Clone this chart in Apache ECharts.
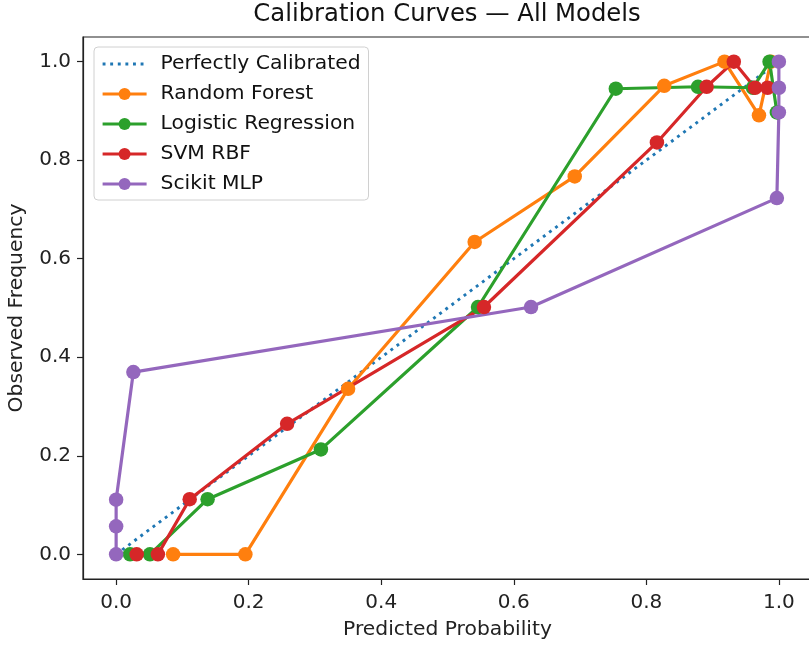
<!DOCTYPE html>
<html>
<head>
<meta charset="utf-8">
<script src="https://cdn.jsdelivr.net/npm/echarts@6/dist/echarts.min.js"></script>
<style>
html,body{margin:0;padding:0;background:#fff;}
#c{width:809px;height:646px;}
</style>
</head>
<body>
<div id="c"></div>
<script>
// ---- data ----
const seriesNames = ["Perfectly Calibrated", "Random Forest", "Logistic Regression", "SVM RBF", "Scikit MLP"];
const perfectX = [0, 1];
const perfectY = [0, 1];
const rfX = [0.086, 0.195, 0.350, 0.541, 0.692, 0.827, 0.918, 0.970, 0.988];
const rfY = [0.000, 0.000, 0.336, 0.634, 0.767, 0.951, 1.000, 0.891, 1.000];
const lrX = [0.021, 0.051, 0.138, 0.309, 0.546, 0.754, 0.878, 0.961, 0.986, 0.997];
const lrY = [0.000, 0.000, 0.112, 0.213, 0.502, 0.945, 0.949, 0.947, 1.000, 0.897];
const svmX = [0.031, 0.063, 0.111, 0.258, 0.555, 0.816, 0.891, 0.932, 0.964, 0.983];
const svmY = [0.000, 0.000, 0.112, 0.265, 0.502, 0.836, 0.949, 1.000, 0.947, 0.947];
const mlpX = [0.000, 0.000, 0.000, 0.026, 0.626, 0.997, 1.000, 1.000, 1.000];
const mlpY = [0.000, 0.057, 0.111, 0.370, 0.502, 0.723, 0.897, 0.947, 1.000];
const tickValues = [0, 0.2, 0.4, 0.6, 0.8, 1.0];
const colors = ["#1f77b4", "#ff7f0e", "#2ca02c", "#d62728", "#9467bd"];

function pairs(xs, ys) { return xs.map((x, i) => [x, ys[i]]); }

const FONT = "DejaVu Sans";
const chart = echarts.init(document.getElementById('c'), null, {renderer: 'canvas'});

const axisCommon = {
  type: 'value',
  min: -0.05,
  max: 1.05,
  splitLine: {show: false},
  axisLine: {show: true, onZero: false, lineStyle: {color: '#222', width: 1.2}},
  axisTick: {show: true, length: 6, lineStyle: {color: '#222', width: 1.2}, customValues: tickValues},
  axisLabel: {
    customValues: tickValues,
    formatter: v => v.toFixed(1),
    color: '#222', fontSize: 20, fontFamily: FONT
  },
  nameLocation: 'middle',
  nameTextStyle: {color: '#222', fontSize: 20.3, fontFamily: FONT}
};

const lineSeries = (name, xs, ys, color) => ({
  name, type: 'line',
  data: pairs(xs, ys),
  symbol: 'circle', symbolSize: 14.5,
  showSymbol: true,
  itemStyle: {color},
  lineStyle: {color, width: 3.2},
  emphasis: {disabled: true},
  animation: false
});

chart.setOption({
  animation: false,
  color: colors,
  title: {
    text: 'Calibration Curves — All Models',
    left: 447, top: 3, textAlign: 'center', padding: 0,
    textStyle: {fontFamily: FONT, fontSize: 24.3, fontWeight: 'normal', color: '#111'}
  },
  grid: {
    left: 83, top: 37, width: 729, height: 542,
    show: true, borderColor: '#222', borderWidth: 1.2, backgroundColor: 'transparent',
    containLabel: false, outerBoundsMode: 'none'
  },
  legend: {
    orient: 'vertical',
    left: 94, top: 47,
    padding: [7, 8, 6, 7],
    itemWidth: 44, itemHeight: 15, itemGap: 10,
    backgroundColor: 'rgba(255,255,255,0.85)',
    borderColor: '#d0d0d0', borderWidth: 1, borderRadius: 4,
    selectedMode: false,
    lineStyle: {width: 3.2},
    textStyle: {fontFamily: FONT, fontSize: 20.3, color: '#111', lineHeight: 20, padding: [0, 0, 0, 9]},
    data: [
      {name: seriesNames[0], itemStyle: {opacity: 0}},
      seriesNames[1], seriesNames[2], seriesNames[3], seriesNames[4]
    ]
  },
  xAxis: Object.assign({}, axisCommon, {name: 'Predicted Probability', nameGap: 41,
    axisLabel: Object.assign({}, axisCommon.axisLabel, {margin: 14})}),
  yAxis: Object.assign({}, axisCommon, {name: 'Observed Frequency', nameGap: 56,
    axisLabel: Object.assign({}, axisCommon.axisLabel, {margin: 12})}),
  series: [
    {
      name: seriesNames[0], type: 'line',
      data: pairs(perfectX, perfectY),
      symbol: 'none', showSymbol: false,
      itemStyle: {color: colors[0]},
      lineStyle: {color: colors[0], width: 2.9, type: [2.9, 4.7]},
      emphasis: {disabled: true}
    },
    lineSeries(seriesNames[1], rfX, rfY, colors[1]),
    lineSeries(seriesNames[2], lrX, lrY, colors[2]),
    lineSeries(seriesNames[3], svmX, svmY, colors[3]),
    lineSeries(seriesNames[4], mlpX, mlpY, colors[4])
  ]
});
</script>
</body>
</html>
